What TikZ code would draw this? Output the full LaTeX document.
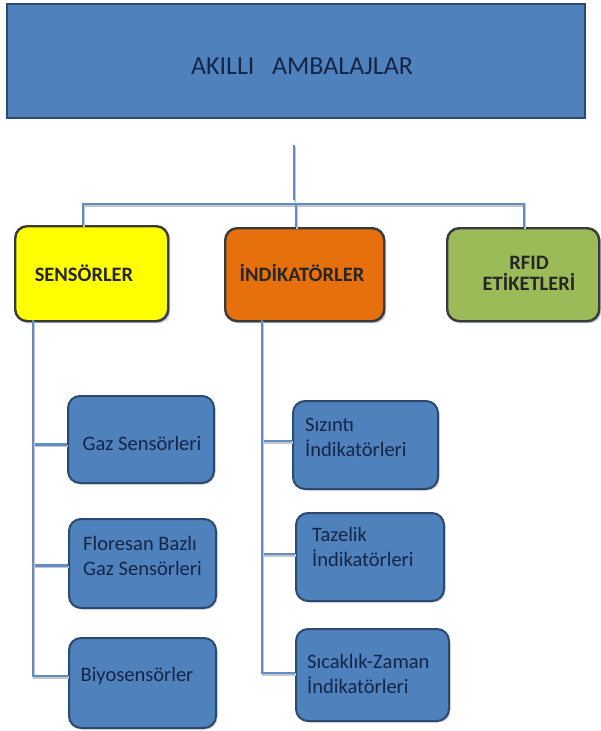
\documentclass[tikz,border=0pt]{standalone}
\usepackage{fontspec}
\setmainfont{Carlito}
\usetikzlibrary{shadows}
\definecolor{blueF}{RGB}{79,129,189}
\definecolor{blueD}{RGB}{44,74,112}
\definecolor{navyT}{RGB}{20,38,72}
\definecolor{lineB}{RGB}{96,140,200}
\definecolor{yelF}{RGB}{255,255,0}
\definecolor{orgF}{RGB}{230,112,12}
\definecolor{grnF}{RGB}{155,187,89}
\definecolor{catD}{RGB}{58,58,58}
\begin{document}
\begin{tikzpicture}[x=1pt,y=1pt,
  topbox/.style={draw=blueD, fill=blueF, line width=2pt, anchor=north west, inner sep=0pt},
  toptext/.style={text=navyT, font=\fontsize{26}{30}\selectfont},
  catbox/.style={draw=catD, line width=2.4pt, rounded corners=12pt, anchor=north west,
    inner sep=0pt,
    drop shadow={shadow xshift=2pt, shadow yshift=-2pt, fill=blueF!60, opacity=0.7}},
  cattext/.style={font=\bfseries\fontsize{20.5}{20}\selectfont, text=black!85, align=center, inner sep=0pt},
  subbox/.style={draw=blueD, fill=blueF, line width=2pt, rounded corners=12pt, anchor=north west,
    inner sep=0pt,
    drop shadow={shadow xshift=1.5pt, shadow yshift=-1.5pt, fill=gray!45, opacity=0.8}},
  subtext/.style={text=navyT, font=\fontsize{20.5}{25}\selectfont, align=left, inner sep=0pt},
  conn/.style={draw=lineB, line width=2.6pt,
    preaction={draw=gray!45, line width=2.6pt, transform canvas={shift={(1pt,-1.5pt)}}}}
]
\useasboundingbox (0,0) rectangle (600,-731);
\fill[white] (0,0) rectangle (600,-731);

% top box
\node[topbox, minimum width=578pt, minimum height=114pt] (top) at (6,-3) {};
\node[toptext] (toptxt) at (302,-66) {AKILLI\ \ \ AMBALAJLAR};

% category boxes
\node[catbox, fill=yelF, minimum width=153pt, minimum height=95pt] (sens) at (14,-225) {};
\node[cattext] (senstxt) at (84,-273) {SENSÖRLER};
\node[catbox, fill=orgF, minimum width=159pt, minimum height=93pt] (ind) at (224,-227) {};
\node[cattext] (indtxt) at (302,-273) {İNDİKATÖRLER};
\node[catbox, fill=grnF, minimum width=152pt, minimum height=93pt] (rfid) at (446,-227) {};
\node[cattext] (rfidtxt) at (529,-273) {RFID\\[1pt]ETİKETLERİ};

% sub boxes left
\node[subbox, minimum width=146pt, minimum height=87pt] (gaz) at (67,-395) {};
\node[subtext] (gaztxt) at (142,-443) {Gaz Sensörleri};
\node[subbox, minimum width=147pt, minimum height=89pt] (flor) at (68,-518) {};
\node[subtext, anchor=west] (flortxt) at (83,-556) {Floresan Bazlı\\Gaz Sensörleri};
\node[subbox, minimum width=147pt, minimum height=90pt] (biyo) at (68,-637) {};
\node[subtext] (biyotxt) at (137,-676) {Biyosensörler};

% sub boxes right
\node[subbox, minimum width=145pt, minimum height=88pt] (siz) at (292,-400) {};
\node[subtext, anchor=west] (siztxt) at (305,-437) {Sızıntı\\İndikatörleri};
\node[subbox, minimum width=148pt, minimum height=88pt] (taz) at (295,-512) {};
\node[subtext, anchor=west] (taztxt) at (312,-547) {Tazelik\\İndikatörleri};
\node[subbox, minimum width=153pt, minimum height=92pt] (sic) at (295,-628) {};
\node[subtext, anchor=west] (sictxt) at (307,-674) {Sıcaklık-Zaman\\İndikatörleri};

% connectors
\coordinate (vt) at (294,-145);
\coordinate (vb) at (294,-200);
\coordinate (busL) at (83,-204);
\coordinate (busM) at (296,-204);
\coordinate (busR) at (524,-204);
\coordinate (lv) at (33,-320);
\coordinate (mv) at (262,-320);

\draw[conn] (vt) -- (vb);
\draw[conn] (busL |- sens.north) -- (busL) -- (busR) -- (busR |- rfid.north);
\draw[conn] (busM) -- (busM |- ind.north);

\draw[conn] (lv) |- ([yshift=-5pt]gaz.west);
\draw[conn] (lv) |- ([yshift=-2pt]flor.west);
\draw[conn] (lv) |- ([yshift=7pt]biyo.west);

\draw[conn] (mv) |- ([yshift=4pt]siz.west);
\draw[conn] (mv) |- ([yshift=3pt]taz.west);
\draw[conn] (mv) |- ([yshift=2pt]sic.west);
\end{tikzpicture}
\end{document}
